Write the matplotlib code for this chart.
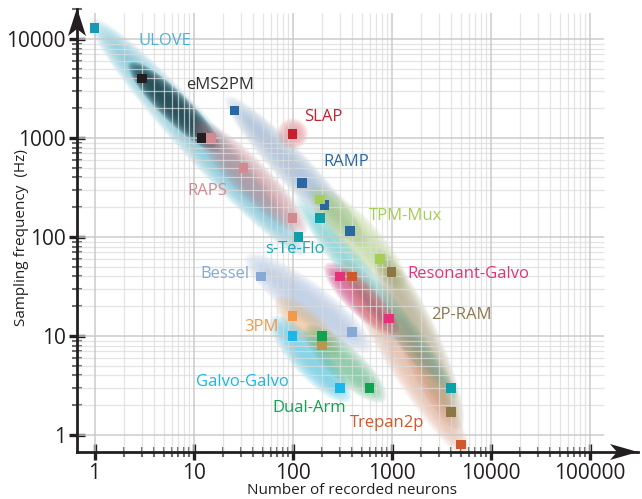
import numpy as np
import matplotlib
matplotlib.use('Agg')
import matplotlib.pyplot as plt
from matplotlib.patches import Polygon
from matplotlib.ticker import FixedLocator, NullFormatter

plt.rcParams['font.family'] = ['Open Sans', 'DejaVu Sans']

# ---- data ----
methods = ['ULOVE', 'eMS2PM', 'RAPS', 'RAMP', 'SLAP', 'TPM-Mux', 's-Te-Flo', 'Bessel',
           'Resonant-Galvo', 'Trepan2p', '2P-RAM', '3PM', 'Galvo-Galvo', 'Dual-Arm', '']
neurons = [[1], [3, 12], [15, 32, 100], [26, 125, 210, 380], [100], [190, 760],
           [115, 190, 4000], [48, 400], [300, 950], [400, 5000], [1000, 4000],
           [100], [100, 300], [200, 600], [200]]
freq = [[13000], [4000, 1000], [1000, 500, 155], [1900, 350, 210, 115], [1100], [240, 60],
        [100, 155, 3], [40, 11], [40, 15], [40, 0.8], [44, 1.7],
        [16], [10, 3], [10, 3], [8]]
x_ticks = [1, 10, 100, 1000, 10000, 100000]
y_ticks = [1, 10, 100, 1000, 10000]

# ---- style ----
point_col = ['#1798b5', '#231f20', '#d08a90', '#2b67a3', '#c4202e', '#a6cd55',
             '#0e9fa8', '#86a9d6', '#e6317a', '#d1572c', '#8c7745',
             '#f19a4b', '#1cb6e8', '#12a150', '#bf954c']
label_col = ['#4db3d2', '#333333', '#d08a90', '#2b67a3', '#c4202e', '#a6cd55',
             '#18a8b4', '#86a9d6', '#e6317a', '#d1572c', '#8c7a4f',
             '#f19a4b', '#1cb6e8', '#12a150', '#bf954c']
label_pos = [(5.1, 9600), (18.5, 3430), (13.8, 292), (350, 570), (205, 1630),
             (1400, 163), (105, 76), (21, 42), (5900, 42), (900, 1.32),
             (5100, 16.3), (49, 12.3), (31, 3.4), (148, 1.87), None]

# blobs: end points, half width (decades), colour, peak alpha
blobs = [
    ((1.1, 13000), (110, 80), 0.22, '#55b8d0', 0.60),
    ((2.6, 5000), (16, 850), 0.15, '#163a43', 0.80),
    ((12, 1250), (115, 130), 0.19, '#c98a93', 0.60),
    ((25, 2200), (480, 95), 0.18, '#7a9fc8', 0.50),
    ((100, 1100), (100, 1100), 0.16, '#e3606a', 0.50),
    ((180, 270), (1150, 38), 0.20, '#add46f', 0.55),
    ((120, 220), (4100, 2.7), 0.15, '#3cc2c8', 0.50),
    ((42, 55), (500, 8.5), 0.21, '#93b3da', 0.50),
    ((250, 46), (1000, 12), 0.16, '#c9357a', 0.60),
    ((820, 58), (4400, 1.45), 0.21, '#8e8550', 0.50),
    ((360, 50), (5100, 0.75), 0.20, '#e08a66', 0.45),
    ((80, 21), (255, 7.4), 0.16, '#f2b070', 0.50),
    ((72, 13), (320, 2.6), 0.18, '#2fbde8', 0.55),
    ((160, 10.5), (720, 2.6), 0.18, '#42b274', 0.55),
]

W, H = 642, 499
fig = plt.figure(figsize=(W / 100, H / 100), dpi=100)


def px(x, y):
    return (x / W, 1 - y / H)


# axes box in pixels: left 77, right 638, top 9, bottom 452
ax = fig.add_axes([77 / W, (H - 452) / H, (638 - 77) / W, (452 - 9) / H])
ax.set_xscale('log')
ax.set_yscale('log')
x0, x1 = 10 ** ((77 - 94.5) / 99), 10 ** ((638 - 94.5) / 99)
y0, y1 = 10 ** ((435 - 452) / 99), 10 ** ((435 - 9) / 99)
ax.set_xlim(x0, x1)
ax.set_ylim(y0, y1)
ax.patch.set_alpha(0)


def blob(p1, p2, w, color, amax, n=24, z=1):
    u1, v1 = np.log10(p1)
    u2, v2 = np.log10(p2)
    cu, cv = (u1 + u2) / 2, (v1 + v2) / 2
    du, dv = u2 - u1, v2 - v1
    L = np.hypot(du, dv) / 2
    round_blob = L < 1e-6
    if round_blob:
        d = np.array([1.0, 0.0])
    else:
        d = np.array([du, dv]) / (2 * L)
    nrm = np.array([-d[1], d[0]])
    a0 = 1 - (1 - amax) ** (1 / n)
    t = np.linspace(0, 2 * np.pi, 120)
    for k in range(n):
        s = np.sqrt(1 - k / n)
        if round_blob:
            a = w * s
        else:
            a = L * (0.6 + 0.4 * s) + w * 0.6 * s
        b = w * s
        uu = cu + a * np.cos(t) * d[0] + b * np.sin(t) * nrm[0]
        vv = cv + a * np.cos(t) * d[1] + b * np.sin(t) * nrm[1]
        ax.add_patch(Polygon(np.column_stack([10 ** uu, 10 ** vv]), closed=True,
                             facecolor=color, edgecolor='none', alpha=a0, zorder=z))


for i, (p1, p2, w, c, am) in enumerate(blobs):
    blob(p1, p2, w, c, am, z=1 + i * 0.01)

# grid
xs_minor = [m * 10 ** k for k in range(5) for m in range(2, 10)]
ys_minor = [m * 10 ** k for k in range(4) for m in range(2, 10)]
gtop = 10 ** ((435 - 13) / 99)
gright = 10 ** ((604 - 94.5) / 99)
ax.vlines(xs_minor, y0, gtop, colors='#dcdcdc', lw=0.9, alpha=0.75, zorder=3)
ax.hlines(ys_minor, x0, gright, colors='#dcdcdc', lw=0.9, alpha=0.75, zorder=3)
ax.vlines(x_ticks, y0, gtop, colors='#c8c8c8', lw=1.3, alpha=0.8, zorder=3)
ax.hlines(y_ticks, x0, gright, colors='#c8c8c8', lw=1.3, alpha=0.8, zorder=3)

# points
for i in range(len(methods)):
    ax.scatter(neurons[i], freq[i], marker='s', s=48, color=point_col[i],
               edgecolors='none', zorder=6)
    if label_pos[i] is not None:
        ax.text(label_pos[i][0], label_pos[i][1], methods[i], color=label_col[i],
                fontsize=12, ha='center', va='center', zorder=7)

# axes, ticks
for s in ['top', 'right']:
    ax.spines[s].set_visible(False)
for s in ['left', 'bottom']:
    ax.spines[s].set_linewidth(2.0)
    ax.spines[s].set_color('#231f20')
    ax.spines[s].set_zorder(8)

ax.xaxis.set_major_locator(FixedLocator(x_ticks))
ax.yaxis.set_major_locator(FixedLocator(y_ticks))
ax.xaxis.set_minor_locator(FixedLocator(xs_minor))
ax.yaxis.set_minor_locator(FixedLocator(ys_minor + [20000]))
ax.xaxis.set_minor_formatter(NullFormatter())
ax.yaxis.set_minor_formatter(NullFormatter())
ax.set_xticklabels([str(v) for v in x_ticks])
ax.set_yticklabels([str(v) for v in y_ticks])
ax.tick_params(which='major', direction='inout', length=12, width=2.4,
               color='#231f20', labelsize=15, labelcolor='#231f20', pad=2)
ax.tick_params(which='minor', direction='inout', length=7, width=1.5,
               color='#6d6e70')

# arrow heads
fig.patches.append(Polygon([px(638, 452), px(610, 444), px(617, 452), px(610, 460)],
                           closed=True, transform=fig.transFigure,
                           facecolor='#231f20', edgecolor='none', zorder=10))
fig.patches.append(Polygon([px(77, 8), px(68, 36), px(77, 29), px(86, 36)],
                           closed=True, transform=fig.transFigure,
                           facecolor='#231f20', edgecolor='none', zorder=10))

fig.text(*px(352, 490), 'Number of recorded neurons', fontsize=11, color='#231f20',
         ha='center', va='center')
fig.text(*px(22, 238), 'Sampling frequency  (Hz)', fontsize=11, color='#231f20',
         ha='center', va='center', rotation=90)

fig.savefig('out.png', dpi=100)
